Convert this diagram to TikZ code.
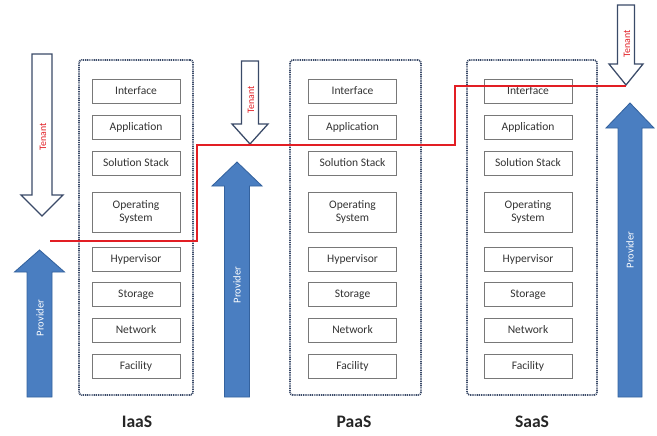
\documentclass[tikz,border=0pt]{standalone}
\usepackage{fontspec}
\setmainfont{Carlito}
\usepackage{tikz}
\usetikzlibrary{positioning,calc}
\usepackage{xcolor}
\definecolor{cblue}{RGB}{74,126,193}
\definecolor{cblueline}{RGB}{52,98,158}
\definecolor{cframe}{RGB}{58,74,104}
\definecolor{cred}{RGB}{226,30,36}
\definecolor{cgray}{RGB}{120,120,120}

% block arrow: [style]{x}{y tail}{y head base}{y tip}{half shaft}{half head}
\newcommand{\blockarrow}[7][]{%
  \draw[#1] (#2-#6,#3) -- (#2+#6,#3) -- (#2+#6,#4) -- (#2+#7,#4) -- (#2,#5)
    -- (#2-#7,#4) -- (#2-#6,#4) -- cycle;}

\begin{document}
\begin{tikzpicture}[
    x=0.025cm, y=-0.025cm,
    layer/.style={draw=cgray, line width=0.5pt, fill=white, minimum width=2.2cm,
                  minimum height=0.6cm, inner sep=0pt, align=center,
                  font=\fontsize{8.2}{9.4}\selectfont, text=black!80},
    frame/.style={draw=cframe, line width=1.2pt, dash pattern=on 0.7pt off 0.6pt,
                  rounded corners=2pt, inner sep=0pt},
    tenant_arr/.style={draw=cframe, line width=0.9pt, fill=white, line join=miter},
    provider_arr/.style={draw=cblueline, line width=0.6pt, fill=cblue},
    tenant_txt/.style={rotate=90, font=\fontsize{7}{8}\selectfont, text=cred},
    provider_txt/.style={rotate=90, font=\fontsize{7.5}{8.5}\selectfont, text=white},
    model_label/.style={font=\fontsize{12.5}{14}\selectfont\bfseries, text=black!85},
    boundary/.style={draw=cred, line width=1.5pt}
]

\useasboundingbox (0,0) rectangle (657,435);

% Dotted frames
\node[frame, minimum width=2.85cm, minimum height=8.375cm] (iaas-box) at (136,227.5) {};
\node[frame, minimum width=3.275cm, minimum height=8.375cm] (paas-box) at (355.5,227.5) {};
\node[frame, minimum width=3.25cm, minimum height=8.375cm] (saas-box) at (532,227.5) {};

% Layers
\foreach \col/\cx in {iaas/136, paas/352.5, saas/528} {
  \foreach \lay/\txt/\cy in {interface/Interface/91, application/Application/127,
                             stack/Solution Stack/163, hypervisor/Hypervisor/259,
                             storage/Storage/294.5, network/Network/330,
                             facility/Facility/366} {
    \node[layer] (\col-\lay) at (\cx,\cy) {\txt};
  }
  \node[layer, minimum height=1cm] (\col-os) at (\cx,212) {Operating\\System};
}

% Model labels
\node[model_label] (iaas-label) at (137,422) {IaaS};
\node[model_label] (paas-label) at (354,422) {PaaS};
\node[model_label] (saas-label) at (532,422) {SaaS};

% Tenant arrows
\blockarrow[tenant_arr]{42}{54}{195}{216}{10}{21}
\blockarrow[tenant_arr]{250}{61}{124}{144}{8.5}{18}
\blockarrow[tenant_arr]{626}{5}{64}{85}{8.5}{17}
\node[tenant_txt] (iaas-tenant) at (43,137) {Tenant};
\node[tenant_txt] (paas-tenant) at (251,100) {Tenant};
\node[tenant_txt] (saas-tenant) at (627,44) {Tenant};

% Provider arrows
\blockarrow[provider_arr]{39.5}{397}{272}{250}{12.5}{25}
\blockarrow[provider_arr]{237}{397}{186}{162}{12.5}{25}
\blockarrow[provider_arr]{630}{397}{128}{103}{12}{24}
\node[provider_txt] (iaas-provider) at (40,318) {Provider};
\node[provider_txt] (paas-provider) at (237,285) {Provider};
\node[provider_txt] (saas-provider) at (630,250) {Provider};

% Responsibility boundary
\coordinate (split-start) at (50,241);
\coordinate (split-end) at (626,86);
\draw[boundary] (split-start) -- (197,241) -- (197,145) -- (455,145)
  -- (455,86) -- (split-end);

\end{tikzpicture}
\end{document}
